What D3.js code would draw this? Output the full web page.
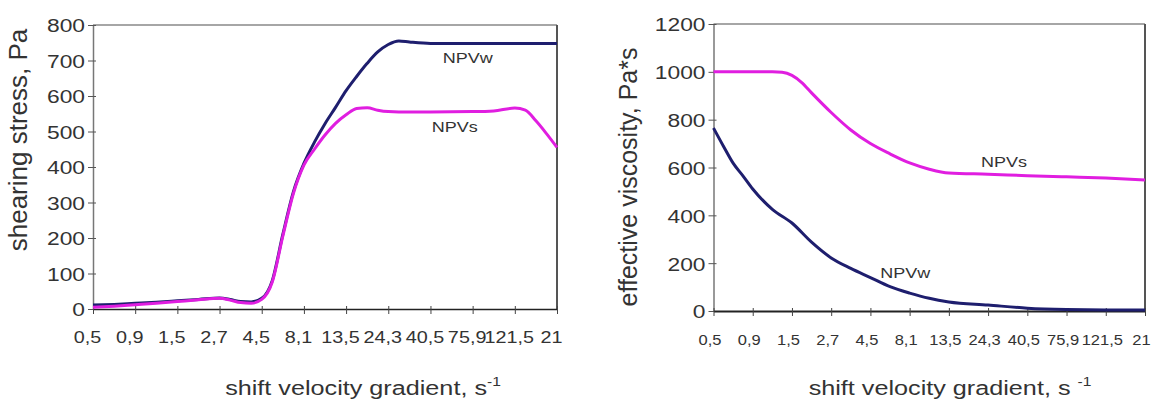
<html>
<head>
  <title>Shearing stress and effective viscosity</title>
  <script src="https://d3js.org/d3.v7.min.js"></script>
  <style>
    body { margin: 0; background: #fff; }
    text { font-family: "Liberation Sans", Arial, sans-serif; fill: #333; }
  </style>
</head>
<body>
<script>
// shift velocity gradient categories (last one is cut off in the source)
var gradLabels = ["0,5", "0,9", "1,5", "2,7", "4,5", "8,1", "13,5", "24,3", "40,5", "75,9", "121,5", "21"];

// left panel: shearing stress, Pa (x = category position)
var stressTicks = [0, 100, 200, 300, 400, 500, 600, 700, 800];
var stressPos = [0, 0.5, 1, 1.5, 2, 2.5, 3, 3.25, 3.5, 3.75, 4, 4.25, 4.5, 4.75, 5, 5.25, 5.5, 5.75, 6, 6.25, 6.5, 6.75, 7, 7.25, 7.5, 8, 9, 9.5, 10, 10.25, 10.5, 10.75, 11];
var stressW = [11, 13, 16, 19, 23, 27, 31, 27, 21, 20, 30, 80, 210, 330, 410, 470, 522, 568, 615, 655, 692, 724, 745, 755, 752, 748, 748, 748, 748, 748, 748, 748, 748];
var stressS = [5, 8, 12, 16, 21, 26, 30, 25, 18, 16, 27, 76, 205, 325, 405, 450, 490, 523, 547, 565, 567, 560, 556, 555, 555, 555, 556, 558, 566, 560, 530, 494, 455];

// right panel: effective viscosity, Pa*s
var viscTicks = [0, 200, 400, 600, 800, 1000, 1200];
var viscPosS = [0, 0.5, 1, 1.5, 1.75, 2, 2.25, 2.5, 3, 3.5, 4, 4.5, 5, 5.5, 6, 7, 8, 9, 10, 11];
var viscS = [1000, 1000, 1000, 1000, 998, 985, 955, 912, 830, 757, 700, 657, 619, 593, 577, 572, 566, 561, 556, 548];
var viscPosW = [0, 0.25, 0.5, 0.75, 1, 1.5, 2, 2.5, 3, 3.5, 4, 4.5, 5, 5.5, 6, 7, 8, 9, 10, 11];
var viscW = [765, 690, 618, 565, 510, 425, 368, 288, 222, 178, 140, 102, 75, 53, 38, 25, 12, 6, 4, 4];

var navy = "#1e1e6e",
    magenta = "#e01ee0";

var svg = d3.select("body")
  .append("svg")
  .attr("width", 1168)
  .attr("height", 401);

// the source picture is stretched sideways, so is its text
function stretch(x, y, sx) {
  return "translate(" + x + "," + y + ") scale(" + (sx || 1.2) + ",1)";
}

function panel(o) {
  var x = d3.scaleLinear().domain([0, gradLabels.length - 1]).range([o.left, o.right]);
  var y = d3.scaleLinear().domain([0, o.max]).range([o.bottom, o.top]);
  var g = svg.append("g");

  // plot frame
  g.append("line")
    .attr("x1", o.left).attr("x2", o.right)
    .attr("y1", o.top).attr("y2", o.top)
    .attr("stroke", "#888").attr("stroke-width", 1.5);
  g.append("line")
    .attr("x1", o.right).attr("x2", o.right)
    .attr("y1", o.top).attr("y2", o.bottom)
    .attr("stroke", "#555").attr("stroke-width", 2);

  var ya = g.append("g")
    .attr("transform", "translate(" + o.left + ",0)")
    .call(d3.axisLeft(y).tickValues(o.ticks).tickFormat(d3.format("d")).tickSize(5).tickSizeOuter(0));
  ya.select(".domain").attr("stroke", "#777").attr("stroke-width", 1.5);
  ya.selectAll(".tick line").attr("x1", 3).attr("stroke", "#555");
  ya.selectAll(".tick text")
    .attr("x", null)
    .attr("dy", "0.36em")
    .attr("transform", stretch(-8, 0))
    .style("font-size", "19px");

  var xa = g.append("g")
    .attr("transform", "translate(0," + o.bottom + ")")
    .call(d3.axisBottom(x)
      .tickValues(d3.range(gradLabels.length))
      .tickFormat(function(i){ return gradLabels[i]; })
      .tickSize(5).tickSizeOuter(0));
  xa.select(".domain").attr("stroke", "#222").attr("stroke-width", o.axisWidth);
  xa.selectAll(".tick line").attr("y1", -3).attr("stroke", "#444");
  xa.selectAll(".tick text")
    .attr("y", null)
    .attr("dy", null)
    .attr("transform", stretch(o.labelDx, 34, o.labelStretch))
    .style("font-size", o.labelSize);

  var line = d3.line()
    .x(function(d){ return x(d[0]); })
    .y(function(d){ return y(d[1]); })
    .curve(d3.curveMonotoneX);

  o.series.forEach(function(s){
    g.append("path")
      .datum(d3.zip(s.pos, s.values))
      .attr("d", line)
      .attr("fill", "none")
      .attr("stroke", s.color)
      .attr("stroke-width", 3)
      .attr("stroke-linejoin", "round");
    g.append("text")
      .attr("transform", stretch(x(s.at[0]), y(s.at[1])))
      .style("font-size", "15px")
      .text(s.name);
  });

  // axis titles
  g.append("text")
    .attr("transform", "translate(" + o.yTitle[0] + "," + o.yTitle[1] + ") rotate(-90)")
    .attr("text-anchor", "middle")
    .attr("dy", "0.35em")
    .style("font-size", o.yTitleSize)
    .text(o.yName);

  var xt = g.append("text")
    .attr("transform", stretch(o.xTitle[0], o.xTitle[1]))
    .attr("text-anchor", "middle")
    .style("font-size", "21px");
  xt.append("tspan").text(o.xName);
  xt.append("tspan").attr("dy", -9).style("font-size", "13px").text("-1");
}

panel({
  left: 93, right: 557, top: 25, bottom: 309, max: 800,
  ticks: stressTicks, axisWidth: 1.5,
  labelDx: -6, labelSize: "16.5px", labelStretch: 1.2,
  yName: "shearing stress, Pa", yTitle: [18, 140], yTitleSize: "26px",
  xName: "shift velocity gradient, s", xTitle: [363, 395],
  series: [
    {name: "NPVw", pos: stressPos, values: stressW, color: navy, at: [8.29, 693]},
    {name: "NPVs", pos: stressPos, values: stressS, color: magenta, at: [8.03, 499]}
  ]
});

panel({
  left: 713.5, right: 1145, top: 24, bottom: 311, max: 1200,
  ticks: viscTicks, axisWidth: 2.2,
  labelDx: -4, labelSize: "15px", labelStretch: 1.1,
  yName: "effective viscosity, Pa*s", yTitle: [628, 177], yTitleSize: "25px",
  xName: "shift velocity gradient, s ", xTitle: [950, 395],
  series: [
    {name: "NPVw", pos: viscPosW, values: viscW, color: navy, at: [4.25, 138]},
    {name: "NPVs", pos: viscPosS, values: viscS, color: magenta, at: [6.82, 602]}
  ]
});
</script>
</body>
</html>
